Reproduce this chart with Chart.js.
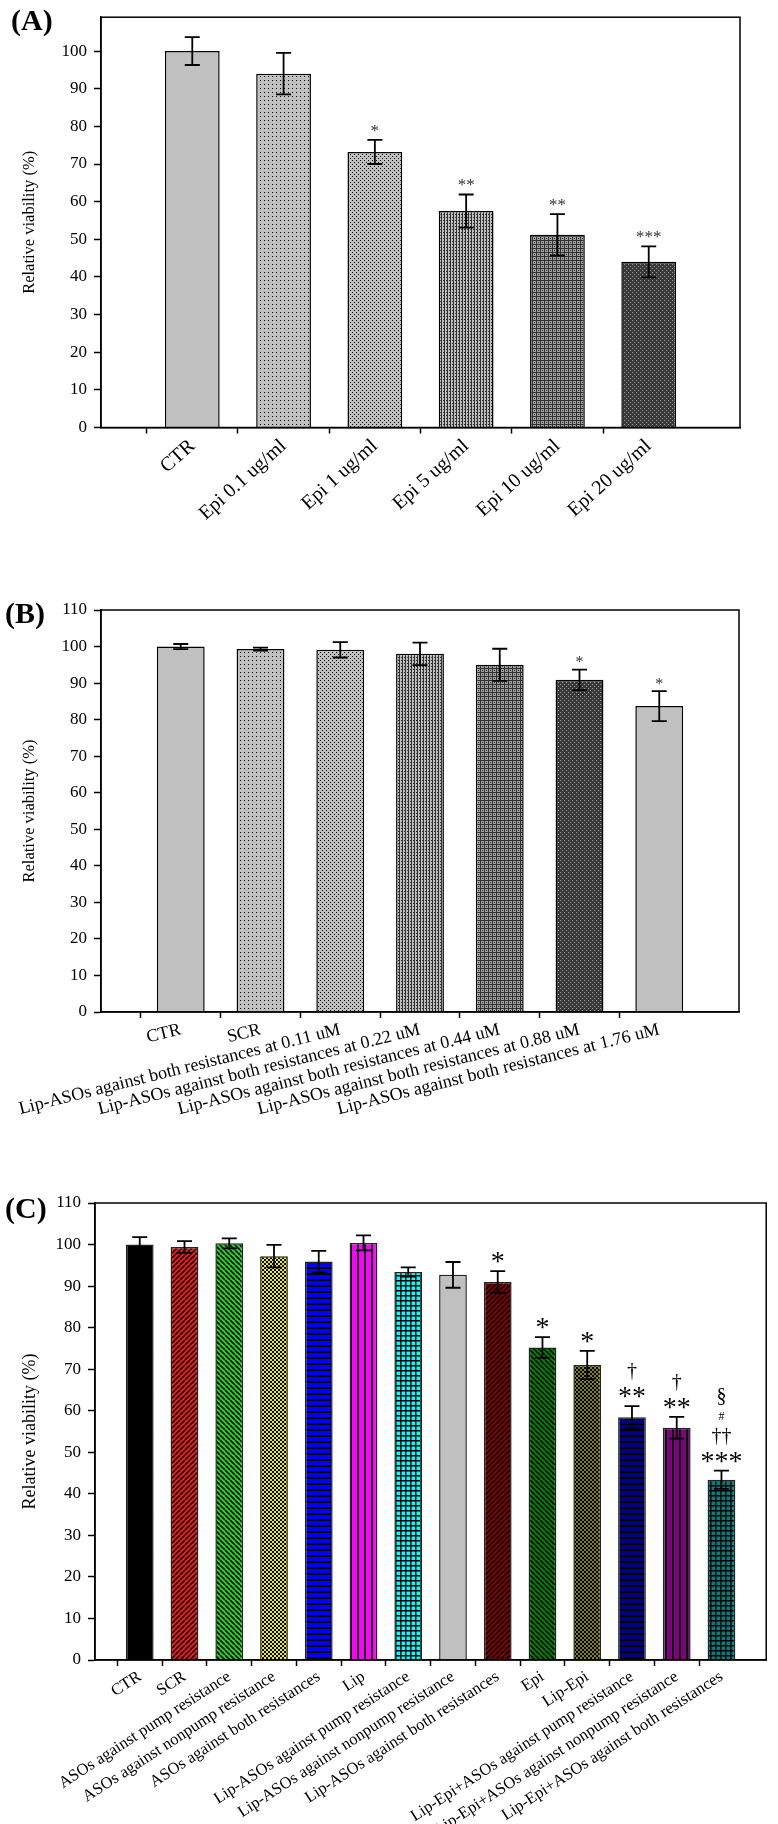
<!DOCTYPE html>
<html lang="en">
<head>
  <meta charset="UTF-8">
  <title>Relative viability</title>
  <script src="https://cdn.jsdelivr.net/npm/chart.js"></script>
  <style>
    body {
      margin: 0;
      background: #fff;
      font-family: "Liberation Serif", "Times New Roman", serif;
    }
    .panel {
      position: relative;
      width: 778px;
    }
    .panel canvas {
      display: block;
    }
    .tag {
      position: absolute;
      font-weight: bold;
      font-size: 30px;
      line-height: 1;
    }
  </style>
</head>
<body>
  <div class="panel">
    <span class="tag" style="left:11px;top:5px">(A)</span>
    <canvas id="chartA" width="778" height="560"></canvas>
  </div>
  <div class="panel">
    <span class="tag" style="left:5px;top:38px">(B)</span>
    <canvas id="chartB" width="778" height="575"></canvas>
  </div>
  <div class="panel">
    <span class="tag" style="left:5px;top:58px">(C)</span>
    <canvas id="chartC" width="778" height="689"></canvas>
  </div>

  <script>
    const SERIF = '"Liberation Serif", "Times New Roman", serif';
    const Y_TITLE = 'Relative viability (%)';

    // (A) epirubicin alone
    const catsA = ['CTR', 'Epi 0.1 ug/ml', 'Epi 1 ug/ml', 'Epi 5 ug/ml', 'Epi 10 ug/ml', 'Epi 20 ug/ml'];
    const valsA = [100, 94.0, 73.2, 57.5, 51.2, 44.0];
    const errsA = [3.7, 5.5, 3.2, 4.4, 5.5, 4.1];
    const sigA = ['', '', '*', '**', '**', '***'];

    // (B) Lip-ASOs doses
    const catsB = [
      'CTR', 'SCR',
      'Lip-ASOs against both resistances at 0.11 uM',
      'Lip-ASOs against both resistances at 0.22 uM',
      'Lip-ASOs against both resistances at 0.44 uM',
      'Lip-ASOs against both resistances at 0.88 uM',
      'Lip-ASOs against both resistances at 1.76 uM'
    ];
    const valsB = [100, 99.3, 99.1, 98.0, 95.0, 90.9, 83.7];
    const errsB = [0.7, 0.4, 2.1, 3.1, 4.4, 2.8, 4.1];
    const sigB = ['', '', '', '', '', '*', '*'];

    // (C) combinations
    const catsC = [
      'CTR', 'SCR',
      'ASOs against pump resistance',
      'ASOs against nonpump resistance',
      'ASOs against both resistances',
      'Lip',
      'Lip-ASOs against pump resistance',
      'Lip-ASOs against nonpump resistance',
      'Lip-ASOs against both resistances',
      'Epi', 'Lip-Epi',
      'Lip-Epi+ASOs against pump resistance',
      'Lip-Epi+ASOs against nonpump resistance',
      'Lip-Epi+ASOs against both resistances'
    ];
    const valsC = [100, 99.4, 100.3, 97.2, 95.9, 100.4, 93.4, 92.7, 91.0, 75.2, 71.0, 58.4, 55.9, 43.4];
    const errsC = [1.8, 1.4, 1.2, 2.7, 2.6, 1.8, 1.1, 3.1, 2.6, 2.5, 3.4, 2.7, 2.6, 2.2];
    const sigC = [[], [], [], [], [], [], [], [], ['*'], ['*'], ['*'], ['†', '**'], ['†', '**'], ['§', '#', '††', '***']];

    // small tiled fills, like the sigmaplot hatches
    function pattern(bg, fg, kind, n) {
      if (kind === 'solid') return bg;
      const c = document.createElement('canvas');
      c.width = c.height = n;
      const g = c.getContext('2d');
      g.fillStyle = bg;
      g.fillRect(0, 0, n, n);
      g.fillStyle = fg;
      g.strokeStyle = fg;
      if (kind === 'dots') g.fillRect(0, 0, 1, 1);
      if (kind === 'dots2') { g.fillRect(0, 0, 1, 1); g.fillRect(n / 2, n / 2, 1, 1); }
      if (kind === 'bigdots') { g.fillRect(0, 0, 2, 2); g.fillRect(n / 2, n / 2, 2, 2); }
      if (kind === 'h') g.fillRect(0, 0, n, 2);
      if (kind === 'v') g.fillRect(0, 0, 2, n);
      if (kind === 'v1') { g.fillRect(0, 0, 1, n); g.fillRect(2, 1, 1, 1); }
      if (kind === 'grid') { g.fillRect(0, 0, n, 1.5); g.fillRect(0, 0, 1.5, n); }
      if (kind === 'mesh') { g.fillRect(0, 0, n, 1); g.fillRect(0, 0, 1, n); g.fillRect(n / 2, n / 2, 1, 1); }
      if (kind === 'fwd' || kind === 'back') {
        g.lineWidth = 1.6;
        g.beginPath();
        for (const o of [-n, 0, n]) {
          if (kind === 'fwd') { g.moveTo(o, n); g.lineTo(o + n, 0); }
          else { g.moveTo(o, 0); g.lineTo(o + n, n); }
        }
        g.stroke();
      }
      return g.createPattern(c, 'repeat');
    }

    const fillsA = [
      pattern('#c0c0c0', '', 'solid'),
      pattern('#c0c0c0', '#000', 'dots', 4),
      pattern('#c0c0c0', '#000', 'dots2', 4),
      pattern('#c0c0c0', '#303030', 'v1', 3),
      pattern('#a0a0a0', '#303030', 'mesh', 4),
      pattern('#383838', '#a0a0a0', 'dots2', 4)
    ];
    const fillsB = [
      pattern('#c0c0c0', '', 'solid'),
      pattern('#c0c0c0', '#000', 'dots', 4),
      pattern('#c0c0c0', '#000', 'dots2', 4),
      pattern('#c0c0c0', '#303030', 'v1', 3),
      pattern('#a0a0a0', '#303030', 'mesh', 4),
      pattern('#383838', '#a0a0a0', 'dots2', 4),
      pattern('#c0c0c0', '', 'solid')
    ];
    const fillsC = [
      pattern('#000000', '', 'solid'),
      pattern('#ff1a1a', '#000', 'fwd', 5),
      pattern('#22dd22', '#000', 'back', 5),
      pattern('#f0f000', '#000', 'bigdots', 4),
      pattern('#0000ff', '#000', 'h', 6),
      pattern('#ff00ff', '#000', 'v', 7),
      pattern('#00ffff', '#000', 'grid', 5),
      pattern('#c0c0c0', '', 'solid'),
      pattern('#8a0000', '#000', 'fwd', 5),
      pattern('#008800', '#000', 'back', 5),
      pattern('#848400', '#000', 'bigdots', 4),
      pattern('#000080', '#000', 'h', 6),
      pattern('#800080', '#000', 'v', 7),
      pattern('#008080', '#000', 'grid', 5)
    ];

    const pad = a => [null, ...a, null];

    const panels = {
      chartA: {
        cats: catsA, vals: valsA, errs: errsA, marks: sigA.map(s => s ? [s] : []), fills: fillsA,
        yMax: 109, top: 12, right: 38, yWidth: 101, xHeight: 132.5, rot: 42, xFont: 20,
        titleSize: 16.5, titlePad: 20, barPct: 0.6, border: '#000',
        markSize: { '*': 17 }, markGap: 12, markStep: 20, markColor: '#333'
      },
      chartB: {
        cats: catsB, vals: valsB, errs: errsB, marks: sigB.map(s => s ? [s] : []), fills: fillsB,
        yMax: 110, top: 50, right: 39, yWidth: 101, xHeight: 123, rot: 14, xFont: 18,
        titleSize: 16.5, titlePad: 20, barPct: 0.6, border: '#000',
        markSize: { '*': 16 }, markGap: 10, markStep: 20, markColor: '#333'
      },
      chartC: {
        cats: catsC, vals: valsC, errs: errsC, marks: sigC, fills: fillsC,
        yMax: 110, top: 68, right: 7, yWidth: 95, xHeight: 164, rot: 33, xFont: 16.5,
        titleSize: 18, titlePad: 19, barPct: 0.62, border: '#222',
        markSize: { '*': 28, '†': 20, '§': 20, '#': 12 }, markGap: 14, markStep: 20, markColor: '#000'
      }
    };

    // error bars drawn through the y scale
    const errorBars = {
      id: 'errorBars',
      afterDatasetsDraw(chart) {
        const p = panels[chart.canvas.id];
        const y = chart.scales.y;
        const meta = chart.getDatasetMeta(0);
        const ctx = chart.ctx;
        ctx.save();
        ctx.strokeStyle = '#000';
        ctx.lineWidth = 1.8;
        p.vals.forEach((v, i) => {
          const bar = meta.data[i + 1];
          const e = p.errs[i];
          const top = y.getPixelForValue(v + e);
          const bot = y.getPixelForValue(v - e);
          ctx.beginPath();
          ctx.moveTo(bar.x, top);
          ctx.lineTo(bar.x, bot);
          ctx.moveTo(bar.x - 7.5, top);
          ctx.lineTo(bar.x + 7.5, top);
          ctx.moveTo(bar.x - 7.5, bot);
          ctx.lineTo(bar.x + 7.5, bot);
          ctx.stroke();
        });
        ctx.restore();
      }
    };

    // significance symbols stacked above the error bars
    const sigMarks = {
      id: 'sigMarks',
      afterDatasetsDraw(chart) {
        const p = panels[chart.canvas.id];
        const y = chart.scales.y;
        const meta = chart.getDatasetMeta(0);
        const ctx = chart.ctx;
        ctx.save();
        ctx.fillStyle = p.markColor;
        ctx.textAlign = 'center';
        ctx.textBaseline = 'middle';
        p.marks.forEach((lines, i) => {
          if (!lines.length) return;
          const x = meta.data[i + 1].x;
          let cy = y.getPixelForValue(p.vals[i] + p.errs[i]) - p.markGap;
          for (let k = lines.length - 1; k >= 0; k--) {
            const t = lines[k];
            const size = p.markSize[t[0]] || 18;
            ctx.font = size + 'px ' + SERIF;
            const shift = t[0] === '*' ? size * 0.2 : 0;
            ctx.fillText(t, x, cy + shift);
            cy -= p.markStep;
          }
        });
        ctx.restore();
      }
    };

    // closed box round the plot area
    const frame = {
      id: 'frame',
      afterDraw(chart) {
        const a = chart.chartArea;
        const ctx = chart.ctx;
        ctx.save();
        ctx.strokeStyle = '#000';
        ctx.lineWidth = 1.5;
        ctx.strokeRect(a.left, a.top, a.right - a.left, a.bottom - a.top);
        ctx.restore();
      }
    };

    Chart.defaults.font.family = SERIF;
    Chart.defaults.color = '#000';

    function buildChart(id) {
      const p = panels[id];
      return new Chart(document.getElementById(id), {
        type: 'bar',
        data: {
          labels: ['', ...p.cats, ''],
          datasets: [{
            data: pad(p.vals),
            backgroundColor: pad(p.fills),
            borderColor: p.border,
            borderWidth: 1.5,
            barPercentage: p.barPct,
            categoryPercentage: 1
          }]
        },
        options: {
          responsive: false,
          animation: false,
          events: [],
          layout: { padding: { top: p.top, right: p.right, left: 0, bottom: 0 } },
          plugins: {
            legend: { display: false },
            tooltip: { enabled: false }
          },
          scales: {
            x: {
              type: 'category',
              offset: false,
              border: { color: '#000', width: 1.5 },
              grid: {
                drawOnChartArea: false,
                tickLength: 6,
                tickWidth: 1.5,
                tickColor: ctx => (ctx.tick && ctx.tick.label) ? '#000' : 'rgba(0,0,0,0)'
              },
              ticks: {
                autoSkip: false,
                minRotation: p.rot,
                maxRotation: p.rot,
                padding: 1,
                color: '#000',
                font: { family: SERIF, size: p.xFont }
              },
              afterFit: s => { s.height = p.xHeight; }
            },
            y: {
              min: 0,
              max: p.yMax,
              border: { color: '#000', width: 1.5 },
              grid: { drawOnChartArea: false, tickLength: 7, tickWidth: 1.5, tickColor: '#000' },
              ticks: { stepSize: 10, padding: 7, color: '#000', font: { family: SERIF, size: 17 } },
              title: {
                display: true,
                text: Y_TITLE,
                color: '#000',
                font: { family: SERIF, size: p.titleSize },
                padding: { top: p.titlePad, bottom: 0 }
              },
              afterBuildTicks: s => { s.ticks = s.ticks.filter(t => t.value % 10 === 0); },
              afterFit: s => { s.width = p.yWidth; }
            }
          }
        },
        plugins: [errorBars, sigMarks, frame]
      });
    }

    buildChart('chartA');
    buildChart('chartB');
    buildChart('chartC');
  </script>
</body>
</html>
